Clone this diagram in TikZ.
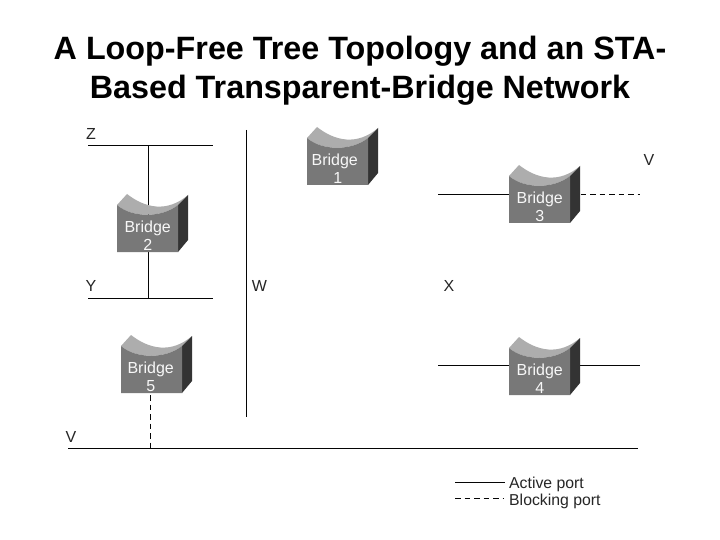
\documentclass[tikz,border=0pt]{standalone}
\usepackage{fontspec}
\setmainfont{Liberation Sans}
\definecolor{bfront}{gray}{0.47}
\definecolor{btop}{gray}{0.68}
\definecolor{bside}{gray}{0.2}
\definecolor{btext}{gray}{0.97}
\definecolor{ink}{gray}{0.02}
\tikzset{
  bridgebox/.style={rectangle,draw=none,minimum width=61pt,minimum height=47pt,inner sep=0pt,anchor=north west,
    text=btext,font=\fontsize{16}{18}\selectfont,align=center},
  wire/.style={draw=ink,line width=1pt},
  blockwire/.style={draw=ink,line width=1pt,dash pattern=on 5.5pt off 4pt},
  seglabel/.style={font=\fontsize{16}{18}\selectfont,text=black!85,inner sep=0pt},
  legendtext/.style={font=\fontsize{15.8}{18}\selectfont,text=black!85,inner sep=0pt,anchor=west},
  titletext/.style={font=\fontsize{32.3}{39}\selectfont\bfseries,align=center,text=black,inner sep=0pt}
}
\newcommand{\bridgeshape}[5]{%
  % #1 name, #2 x, #3 y, #4 number, #5 text shift
  \fill[btop] (#2,#3) -- (#2+10,#3-11) .. controls (#2+28,#3+3) and (#2+50,#3+8) .. (#2+71,#3-10)
     -- (#2+61,#3) .. controls (#2+45,#3+13) and (#2+15,#3+13) .. cycle;
  \fill[bside] (#2+61,#3) -- (#2+71,#3-10) -- (#2+71,#3+35) -- (#2+61,#3+47) -- cycle;
  \fill[bfront] (#2,#3) .. controls (#2+15,#3+13) and (#2+45,#3+13) .. (#2+61,#3) -- (#2+61,#3+47) -- (#2,#3+47) -- cycle;
  \node[bridgebox,xshift=#5,yshift=-1pt] (#1) at (#2,#3) {\rule{0pt}{8pt}\\[-3pt]Bridge\\[0pt]#4};
}
\begin{document}
\begin{tikzpicture}[x=1pt,y=-1pt]
\useasboundingbox (0,0) rectangle (720,540);
\fill[white] (0,0) rectangle (720,540);
\node[titletext] (title) at (360,71) {A Loop-Free Tree Topology and an STA-\\Based Transparent-Bridge Network};

\coordinate (zl) at (88,145.5); \coordinate (zr) at (213,145.5);
\coordinate (zt) at (148.5,145.5); \coordinate (yb) at (148.5,298.5);
\coordinate (yl) at (88,298.5); \coordinate (yr) at (213,298.5);
\coordinate (wt) at (246.5,130); \coordinate (wb) at (246.5,417);
\coordinate (vl) at (68,448.5); \coordinate (vr) at (638,448.5); \coordinate (vj) at (150.5,448.5);
\coordinate (tl) at (438,194.5); \coordinate (tr) at (640,194.5);
\coordinate (fl) at (438,365.5); \coordinate (fr) at (640,365.5);
\coordinate (b5t) at (150.5,395);
\coordinate (tm) at (509,194.5); \coordinate (tn) at (571,194.5);
\coordinate (al) at (455,482.5); \coordinate (ar) at (505,482.5);
\coordinate (bl) at (455,498.5); \coordinate (br) at (503,498.5);

\draw[wire] (zl) -- (zr);
\draw[wire] (yl) -- (yr);
\draw[wire] (zt) -- (yb);
\draw[wire] (wt) -- (wb);
\draw[wire] (vl) -- (vr);
\draw[wire] (tl) -- (tm);
\draw[blockwire] (tn) -- (tr);
\draw[wire] (fl) -- (fr);
\draw[blockwire] (b5t) -- (vj);
\draw[wire] (al) -- (ar);
\draw[blockwire] (bl) -- (br);

\bridgeshape{b1}{307}{138}{\hspace*{6pt}1}{-3pt}
\bridgeshape{b2}{117}{205}{2}{0pt}
\bridgeshape{b3}{509}{176}{3}{0pt}
\bridgeshape{b4}{509}{348}{4}{0pt}
\bridgeshape{b5}{121}{346}{5}{-1pt}

\node[seglabel] (lz) at (91,134) {Z};
\node[seglabel] (ly) at (91,286) {Y};
\node[seglabel] (lw) at (259.5,286) {W};
\node[seglabel] (lx) at (449,286) {X};
\node[seglabel] (lv1) at (649,160) {V};
\node[seglabel] (lv2) at (71,437) {V};
\node[legendtext] (la) at (509,484) {Active port};
\node[legendtext] (lb) at (509,501) {Blocking port};
\end{tikzpicture}
\end{document}
